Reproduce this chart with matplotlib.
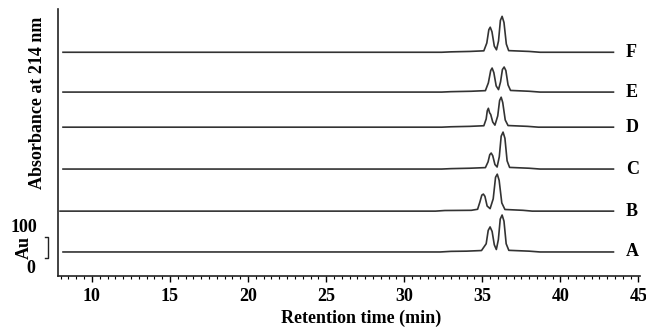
import matplotlib
matplotlib.use("Agg")
import matplotlib.pyplot as plt
from matplotlib.ticker import MultipleLocator

plt.rcParams["font.family"] = ["Liberation Serif", "DejaVu Serif"]
plt.rcParams["font.weight"] = "bold"

# chromatogram traces: retention time (min) and absorbance above each baseline
labels = ["A", "B", "C", "D", "E", "F"]
offsets = [117, 316, 521, 725, 896, 1090]

t_a = [8.15, 32.3, 33.0, 34.0, 34.95, 35.25, 35.38, 35.5, 35.63, 35.77, 35.9, 36.03, 36.15, 36.27, 36.39, 36.53, 36.7, 38.0, 38.7, 43.4]
y_a = [0, 0, 3, 4, 7, 40, 105, 122, 100, 35, 12, 60, 160, 180, 150, 40, 8, 4, 0, 0]

t_b = [7.96, 32.0, 32.6, 34.3, 34.7, 34.85, 34.97, 35.07, 35.17, 35.31, 35.5, 35.7, 35.85, 35.96, 36.08, 36.25, 36.45, 37.6, 38.2, 43.4]
y_b = [0, 0, 3, 4, 9, 45, 78, 83, 72, 25, 12, 60, 165, 180, 150, 40, 8, 4, 0, 0]

t_c = [8.15, 32.4, 33.0, 34.2, 35.2, 35.37, 35.48, 35.57, 35.67, 35.81, 35.95, 36.09, 36.21, 36.33, 36.45, 36.59, 36.75, 38.0, 38.7, 43.4]
y_c = [0, 0, 2, 4, 7, 35, 70, 78, 65, 22, 10, 60, 160, 180, 150, 40, 8, 4, 0, 0]

t_d = [8.15, 32.4, 33.0, 34.2, 35.1, 35.25, 35.32, 35.39, 35.47, 35.54, 35.67, 35.81, 35.99, 36.11, 36.21, 36.31, 36.47, 36.65, 37.9, 38.6, 43.4]
y_d = [0, 0, 2, 4, 7, 40, 80, 92, 70, 62, 25, 10, 55, 130, 146, 120, 35, 8, 4, 0, 0]

t_e = [8.15, 32.4, 33.0, 34.3, 35.2, 35.39, 35.54, 35.63, 35.74, 35.89, 36.04, 36.17, 36.29, 36.4, 36.51, 36.65, 36.81, 38.0, 38.7, 43.4]
y_e = [0, 0, 2, 4, 7, 45, 105, 117, 95, 30, 12, 50, 110, 122, 105, 35, 8, 4, 0, 0]

t_f = [8.15, 32.4, 33.0, 34.2, 35.1, 35.29, 35.42, 35.51, 35.62, 35.77, 35.91, 36.04, 36.16, 36.27, 36.39, 36.54, 36.69, 38.0, 38.7, 43.4]
y_f = [0, 0, 2, 4, 7, 45, 110, 122, 100, 30, 12, 55, 155, 175, 145, 40, 8, 4, 0, 0]

traces = [(t_a, y_a), (t_b, y_b), (t_c, y_c), (t_d, y_d), (t_e, y_e), (t_f, y_f)]

fig = plt.figure(figsize=(6.46, 3.27), dpi=100)
ax = fig.add_axes([0.0898, 0.156, 0.9009, 0.816])

for (t, y), off, lab in zip(traces, offsets, labels):
    ax.plot(t, [v + off for v in y], color="#333333", lw=1.2)
    ax.text(44.2, off, lab, fontsize=13, fontweight="bold", ha="left", va="center")

ax.set_xlim(7.83, 45.1)
ax.set_ylim(0, 1300)

ax.spines["top"].set_visible(False)
ax.spines["right"].set_visible(False)
for s in ("left", "bottom"):
    ax.spines[s].set_linewidth(1.2)
    ax.spines[s].set_color("#222222")

ax.set_yticks([])
ax.xaxis.set_minor_locator(MultipleLocator(0.5))
ax.set_xticks([10, 15, 20, 25, 30, 35, 40, 45])
ax.tick_params(axis="x", which="major", direction="out", length=4, width=1, labelsize=13, pad=5)
ax.tick_params(axis="x", which="minor", direction="out", length=2, width=0.8)
for lbl in ax.get_xticklabels():
    lbl.set_fontweight("bold")

ax.set_xlabel("Retention time (min)", fontsize=13, fontweight="bold")
ax.xaxis.set_label_coords(0.52, -0.125)
ax.set_ylabel("Absorbance at 214 nm", fontsize=13, fontweight="bold")
ax.yaxis.set_label_coords(-0.02, 0.65)

# 100 Au scale bar to the left of the axis
ytr = ax.get_yaxis_transform()
ax.plot([-0.022, -0.017, -0.017, -0.022], [90, 90, 190, 190], transform=ytr,
        color="#222222", lw=1.0, clip_on=False)
ax.text(-0.059, 234, "100", transform=ytr, fontsize=13, fontweight="bold",
        ha="center", va="center")
ax.text(-0.058, 140, "Au", transform=ytr, fontsize=13, fontweight="bold",
        ha="center", va="center", rotation=90)
ax.text(-0.046, 36, "0", transform=ytr, fontsize=13, fontweight="bold",
        ha="center", va="center")

fig.savefig("out.png", dpi=100)
